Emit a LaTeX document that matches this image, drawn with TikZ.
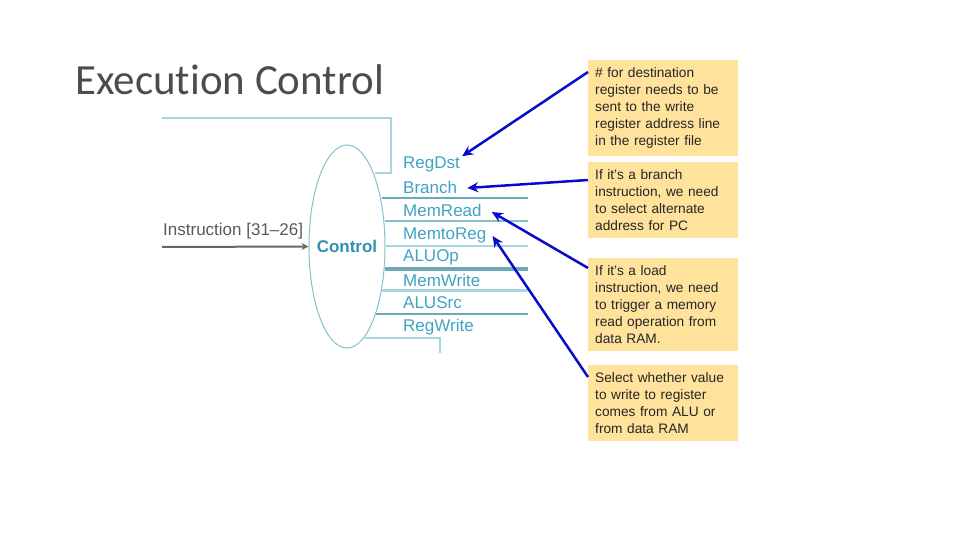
\documentclass[tikz,border=0pt]{standalone}
\usepackage{fontspec}
\setmainfont{Liberation Sans}
\newfontfamily\titlefont[Ligatures=NoCommon]{Carlito}
\usetikzlibrary{arrows.meta,shapes.geometric}
\definecolor{notefill}{HTML}{FFE29C}
\definecolor{arrowblue}{HTML}{0A0ACD}
\definecolor{labelblue}{HTML}{3FA3C4}
\definecolor{wirelight}{HTML}{A9D6DE}
\definecolor{wiremid}{HTML}{86C0CC}
\definecolor{wiredark}{HTML}{6FA9B5}
\definecolor{ctrlblue}{HTML}{2F8FAF}
\tikzset{
  x=1pt,y=-1pt,
  note/.style={fill=notefill,anchor=north west,minimum width=150pt,text width=136pt,inner xsep=7pt,inner ysep=7.5pt,align=left,font=\fontsize{13.7}{17}\selectfont,text=black!85},
  sig/.style={anchor=west,inner sep=0pt,text=labelblue,font=\fontsize{17}{17}\selectfont},
  callout/.style={draw=arrowblue,line width=2.5pt,-{Stealth[length=11pt,width=10pt]}}
}
\begin{document}
\begin{tikzpicture}
\useasboundingbox (0,0) rectangle (960,540);
\node[anchor=west,inner sep=0pt,font=\fontsize{43}{46}\selectfont\titlefont,text=black!70] (title) at (75,80) {Execution Control};
% control
\node[draw=wiremid,line width=1pt,ellipse,minimum width=76pt,minimum height=203pt,inner sep=0pt] (ctrl) at (347,246.5) {};
\node[inner sep=0pt,font=\bfseries\fontsize{17}{17}\selectfont,text=ctrlblue] (control) at (ctrl.center) {Control};
\node[anchor=west,inner sep=0pt,font=\fontsize{17}{17}\selectfont,text=black!65] (instr) at (163,231.5) {Instruction [31--26]};
\coordinate (instrstart) at (162,247);
\draw[black!60,line width=2pt,-{Stealth[length=7pt,width=7pt]}] (instrstart) -- (ctrl.west);
% labels
\node[sig] (l1) at (403,164) {RegDst};
\node[sig] (l2) at (403,187) {Branch};
\node[sig] (l3) at (403,210.5) {MemRead};
\node[sig] (l4) at (403,235) {MemtoReg};
\node[sig] (l5) at (403,257) {ALUOp};
\node[sig] (l6) at (403,280) {MemWrite};
\node[sig] (l7) at (403,303) {ALUSrc};
\node[sig] (l8) at (403,327) {RegWrite};
% wires
\coordinate (wa) at (162,118); \coordinate (wb) at (391,118); \coordinate (wc) at (391,173); \coordinate (wd) at (375,173);
\draw[wirelight,line width=2.4pt] (wa) -- (wb) -- (wc) -- (wd);
\foreach \n/\xs/\ys/\c/\w in {a/382/198/wiredark/1.8,b/385/221/wiremid/1.8,c/386/246/wirelight/2.4,d/385/269/wiredark/3.2,e/382/290.5/wirelight/2.4,f/376/314/wiredark/2.4}{
  \coordinate (s\n) at (\xs,\ys); \coordinate (t\n) at (528,\ys);
  \draw[\c,line width=\w pt] (s\n) -- (t\n);
}
\coordinate (wg) at (365,338); \coordinate (wh) at (440,338); \coordinate (wi) at (440,353);
\draw[wirelight,line width=2pt] (wg) -- (wh) -- (wi);
% notes
\node[note] (n1) at (588,60) {\# for destination\\register needs to be\\sent to the write\\register address line\\in the register file};
\node[note] (n2) at (588,162) {If it's a branch\\instruction, we need\\to select alternate\\address for PC};
\node[note] (n3) at (588,258) {If it's a load\\instruction, we need\\to trigger a memory\\read operation from\\data RAM.};
\node[note] (n4) at (588,365) {Select whether value\\to write to register\\comes from ALU or\\from data RAM};
% callouts
\draw[callout] ([yshift=-12pt]n1.north west) -- ([xshift=2pt,yshift=0pt]l1.north east);
\draw[callout] ([yshift=-18pt]n2.north west) -- ([xshift=10pt,yshift=-1pt]l2.east);
\draw[callout] ([yshift=-10pt]n3.north west) -- ([xshift=10pt,yshift=-1.5pt]l3.east);
\draw[callout] ([yshift=-12pt]n4.north west) -- ([xshift=6pt,yshift=-1pt]l4.east);
\end{tikzpicture}
\end{document}
